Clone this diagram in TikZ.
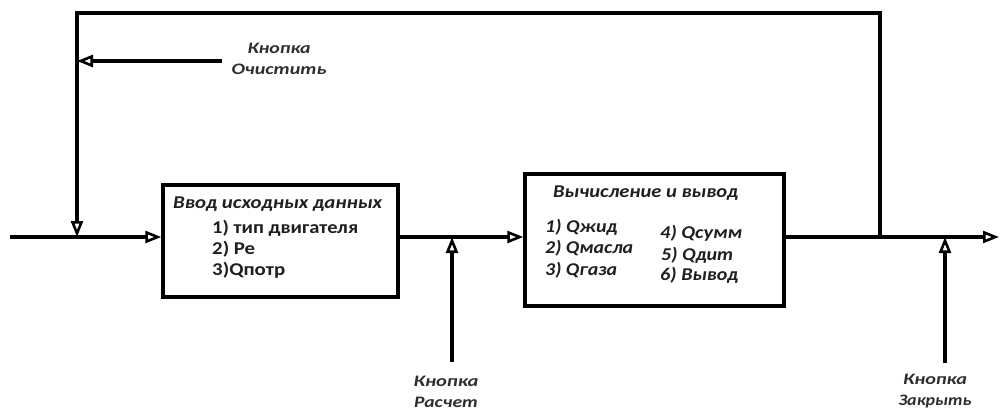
\documentclass[tikz,border=0pt]{standalone}
\usepackage{fontspec}
\setmainfont{Carlito}
\usepackage{graphicx}
\usetikzlibrary{arrows.meta}
\newcommand\wt[2]{\resizebox{#1pt}{\height}{#2}}
\tikzset{
  ln/.style={line width=3.2pt, line cap=butt},
  arr/.style={ln, -{Triangle[open, length=16pt, width=12pt, line width=2.6pt, fill=white]}},
  blk/.style={draw, line width=3.4pt, fill=white, inner sep=0pt},
  ital/.style={font=\fontsize{18}{20}\selectfont\bfseries\itshape, text=black!88, inner sep=0pt, anchor=west},
  upr/.style={font=\fontsize{18}{20}\selectfont\bfseries, text=black!88, inner sep=0pt, anchor=west},
  btn/.style={font=\fontsize{16}{21}\selectfont\bfseries\itshape, text=black!82, inner sep=0pt, align=center},
}
\begin{document}
\begin{tikzpicture}[x=1pt, y=-1pt]
\useasboundingbox[fill=white] (0,0) rectangle (1003,410);
% blocks
\node[blk, minimum width=235pt, minimum height=112pt] (b1) at (280.5,241) {};
\node[blk, minimum width=259pt, minimum height=132pt] (b2) at (654.5,240) {};
% coordinates of the lines
\coordinate (in) at (10,237);
\coordinate (out) at (999,237);
\coordinate (j1) at (77,237);
\coordinate (j2) at (880,237);
\coordinate (t1) at (77,13);
\coordinate (t2) at (880,13);
\coordinate (c1) at (222,61);
\coordinate (r1) at (452,362);
\coordinate (z1) at (945,363);
% main flow
\draw[arr] (in) -- (in -| b1.west);
\draw[arr] (b1.east |- in) -- (b2.west |- in);
\draw[arr] (b2.east |- in) -- (out);
% feedback loop
\draw[arr] (j2) -- (t2) -- (t1) -- (j1);
% buttons
\draw[arr] (c1) -- (c1 -| t1);
\draw[arr] (r1) -- (r1 |- in);
\draw[arr] (z1) -- (z1 |- in);
% texts box 1
\node[ital] (h1) at (173,204) {\wt{209}{Ввод исходных данных}};
\node[upr] (a1) at (212,228) {\wt{146}{1) тип двигателя}};
\node[upr] (a2) at (212,249) {\wt{43}{2) Pe}};
\node[upr] (a3) at (212,270) {\wt{73}{3)Qпотр}};
% texts box 2
\node[ital] (h2) at (553,193) {\wt{185}{Вычисление и вывод}};
\node[ital] (d1) at (545,227) {\wt{72}{1) Qжид}};
\node[ital] (d2) at (545,248) {\wt{88}{2) Qмасла}};
\node[ital] (d3) at (545,270) {\wt{72}{3) Qгаза}};
\node[ital] (d4) at (660,233) {\wt{82}{4) Qсумм}};
\node[ital] (d5) at (661,255) {\wt{72}{5) Qдит}};
\node[ital] (d6) at (660,275) {\wt{78}{6) Вывод}};
% button labels
\node[btn] (l1) at (279,59) {\wt{63}{Кнопка}\\\wt{95}{Очистить}};
\node[btn] (l2) at (446,392) {\wt{65}{Кнопка}\\\wt{64}{Расчет}};
\node[btn] (l3) at (935,391) {\wt{64}{Кнопка}\\\wt{73}{Закрыть}};
\end{tikzpicture}
\end{document}
